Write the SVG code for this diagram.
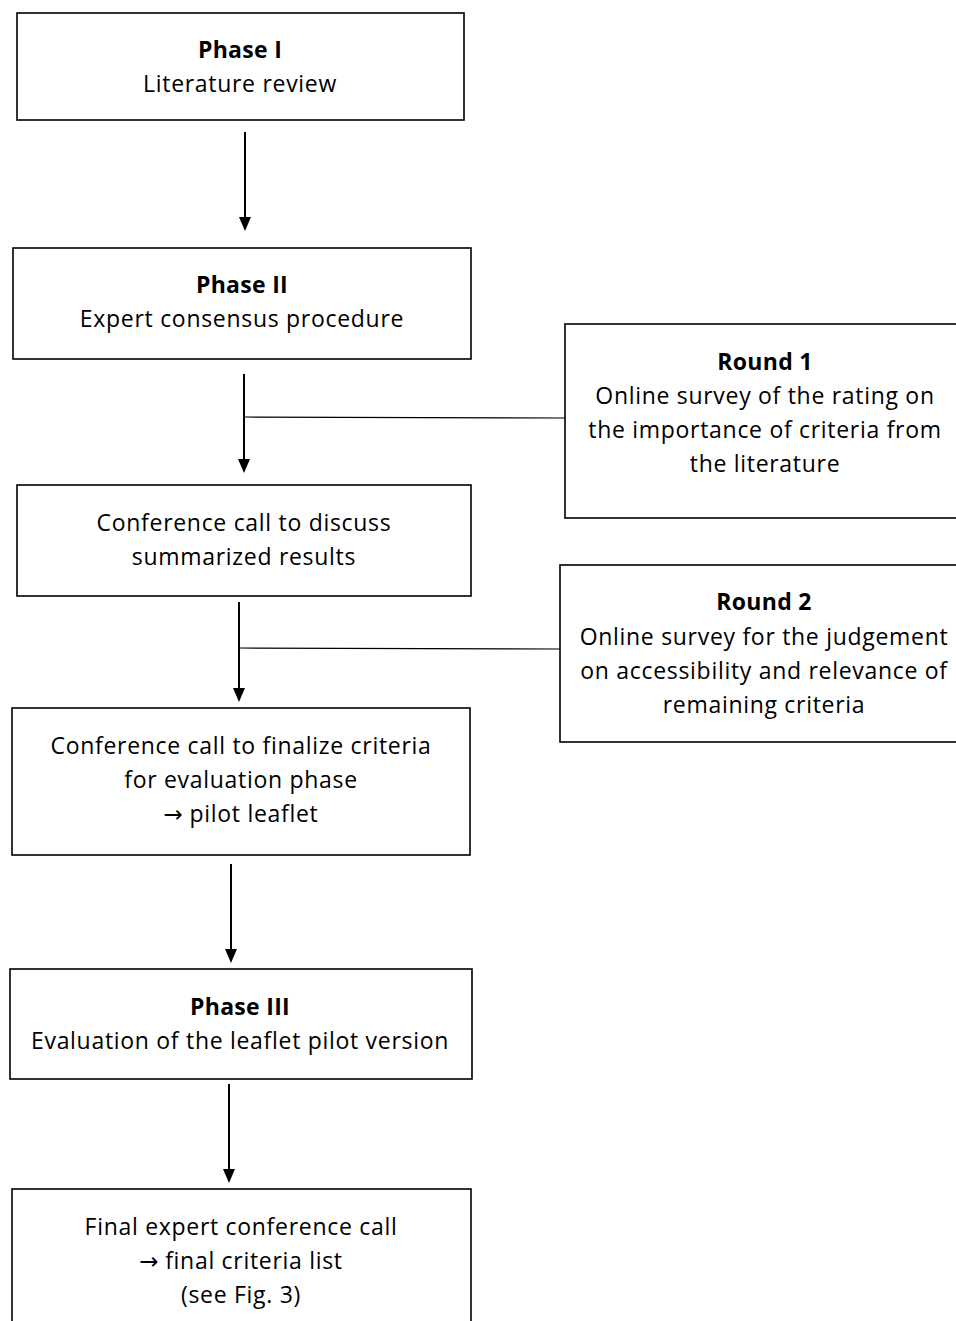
<svg xmlns="http://www.w3.org/2000/svg" width="956" height="1321" viewBox="0 0 956 1321">
<style>
.box{fill:#fff;stroke:#000;stroke-width:1.6}
.t{font-family:"Open Sans","Liberation Sans",sans-serif;font-size:23px;letter-spacing:0.7px;fill:#000;text-anchor:middle}
.b{font-weight:bold;letter-spacing:0.3px}
.ar{font-family:"DejaVu Sans",sans-serif;letter-spacing:0}
.arr{stroke:#000;stroke-width:2;fill:none}
.ln{stroke:#000;stroke-width:1.2;fill:none}
</style>
<rect width="956" height="1321" fill="#fff"/>
<g id="connectors">
<line class="arr" x1="245" y1="132" x2="245" y2="218"/>
<path d="M239,217 L251,217 L245,231 Z"/>
<line class="arr" x1="244" y1="374" x2="244" y2="460"/>
<path d="M238,459 L250,459 L244,473 Z"/>
<line class="ln" x1="245" y1="417" x2="565" y2="418"/>
<line class="arr" x1="239" y1="602" x2="239" y2="689"/>
<path d="M233,688 L245,688 L239,702 Z"/>
<line class="ln" x1="240" y1="648" x2="560" y2="649"/>
<line class="arr" x1="231" y1="864" x2="231" y2="950"/>
<path d="M225,949 L237,949 L231,963 Z"/>
<line class="arr" x1="229" y1="1084" x2="229" y2="1170"/>
<path d="M223,1169 L235,1169 L229,1183 Z"/>
</g>
<g id="phase1">
<rect class="box" x="17" y="13" width="447" height="107"/>
<text class="t b" x="240" y="58">Phase I</text>
<text class="t" x="240" y="92">Literature review</text>
</g>
<g id="phase2">
<rect class="box" x="13" y="248" width="458" height="111"/>
<text class="t b" x="242" y="293">Phase II</text>
<text class="t" x="242" y="327">Expert consensus procedure</text>
</g>
<g id="round1">
<rect class="box" x="565" y="324" width="400" height="194"/>
<text class="t b" x="765" y="370">Round 1</text>
<text class="t" x="765" y="404">Online survey of the rating on</text>
<text class="t" x="765" y="438">the importance of criteria from</text>
<text class="t" x="765" y="472">the literature</text>
</g>
<g id="conf1">
<rect class="box" x="17" y="485" width="454" height="111"/>
<text class="t" x="244" y="531">Conference call to discuss</text>
<text class="t" x="244" y="565">summarized results</text>
</g>
<g id="round2">
<rect class="box" x="560" y="565" width="405" height="177"/>
<text class="t b" x="764" y="610">Round 2</text>
<text class="t" x="764" y="645">Online survey for the judgement</text>
<text class="t" x="764" y="679">on accessibility and relevance of</text>
<text class="t" x="764" y="713">remaining criteria</text>
</g>
<g id="conf2">
<rect class="box" x="12" y="708" width="458" height="147"/>
<text class="t" x="241" y="754">Conference call to finalize criteria</text>
<text class="t" x="241" y="788">for evaluation phase</text>
<text class="t" x="241" y="822"><tspan class="ar">→</tspan> pilot leaflet</text>
</g>
<g id="phase3">
<rect class="box" x="10" y="969" width="462" height="110"/>
<text class="t b" x="240" y="1015">Phase III</text>
<text class="t" x="240" y="1049">Evaluation of the leaflet pilot version</text>
</g>
<g id="final">
<rect class="box" x="12" y="1189" width="459" height="140"/>
<text class="t" x="241" y="1235">Final expert conference call</text>
<text class="t" x="241" y="1269"><tspan class="ar">→</tspan> final criteria list</text>
<text class="t" x="241" y="1303">(see Fig. 3)</text>
</g>
</svg>
